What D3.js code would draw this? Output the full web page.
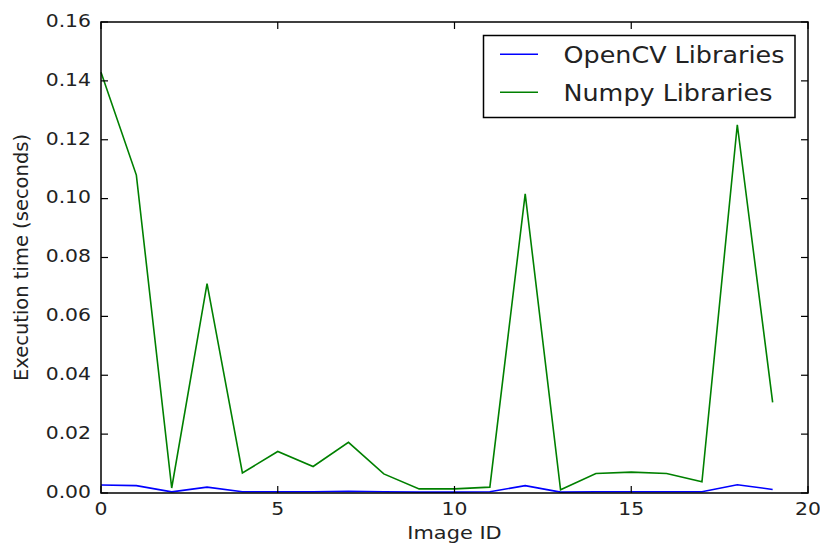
<!DOCTYPE html>
<html>
<head>
<meta charset="utf-8">
<script src="https://cdn.jsdelivr.net/npm/d3@7/dist/d3.min.js"></script>
<style>
  body { margin: 0; background: #fff; }
  svg { display: block; }
  text { font-family: "DejaVu Sans", sans-serif; fill: #222; }
</style>
</head>
<body>
<svg id="chart" width="820" height="552"></svg>
<script>
const imageIds = [0,1,2,3,4,5,6,7,8,9,10,11,12,13,14,15,16,17,18,19];
const opencvTimes = [0.0027,0.0025,0.0004,0.0020,0.0004,0.0004,0.0004,0.0006,0.0004,0.0003,0.0003,0.0004,0.0025,0.0003,0.0004,0.0004,0.0004,0.0004,0.0028,0.0012];
const numpyTimes = [0.1429,0.1080,0.0017,0.0711,0.0068,0.0141,0.0090,0.0172,0.0065,0.0014,0.0014,0.0020,0.1016,0.0011,0.0066,0.0071,0.0066,0.0038,0.1251,0.0308];
const xTicks = [0,5,10,15,20];
const yTicks = [0,0.02,0.04,0.06,0.08,0.10,0.12,0.14,0.16];
const seriesNames = ["OpenCV Libraries","Numpy Libraries"];
const seriesColors = ["#0000ff","#008000"];

const W = 820, H = 552;
const m = {left: 101, right: 12, top: 22, bottom: 59};
const SX = 1.1;  // horizontal text stretch for tick labels
const SXL = 1.13; // for labels/legend
const svg = d3.select("#chart");

const x = d3.scaleLinear().domain([0,20]).range([m.left, W - m.right]);
const y = d3.scaleLinear().domain([0,0.16]).range([H - m.bottom, m.top]);

// lines
const line = d3.line().x((d,i)=>x(imageIds[i])).y(d=>y(d));
const g = svg.append("g");
[opencvTimes, numpyTimes].forEach((s,k)=>{
  g.append("path").datum(s).attr("d", line)
    .attr("fill","none").attr("stroke", seriesColors[k])
    .attr("stroke-width",1.6).attr("stroke-linejoin","miter");
});

// ticks (inside, all four sides)
const tl = 7;
const axes = svg.append("g").attr("stroke","#000").attr("stroke-width",1.2);
xTicks.forEach(t=>{
  axes.append("line").attr("x1",x(t)).attr("x2",x(t)).attr("y1",y(0)).attr("y2",y(0)-tl);
  axes.append("line").attr("x1",x(t)).attr("x2",x(t)).attr("y1",y(0.16)).attr("y2",y(0.16)+tl);
});
yTicks.forEach(t=>{
  axes.append("line").attr("x1",x(0)).attr("x2",x(0)+tl).attr("y1",y(t)).attr("y2",y(t));
  axes.append("line").attr("x1",x(20)).attr("x2",x(20)-tl).attr("y1",y(t)).attr("y2",y(t));
});

// tick labels
const fs = 18.5;
xTicks.forEach(t=>{
  svg.append("text").attr("transform",`translate(${x(t)},${y(0)+22}) scale(${SX},1)`)
    .attr("text-anchor","middle").style("font-size",fs+"px").text(d3.format("d")(t));
});
yTicks.forEach(t=>{
  svg.append("text").attr("transform",`translate(${x(0)-10},${y(t)+4.8}) scale(${SX},1)`)
    .attr("text-anchor","end").style("font-size",fs+"px").text(d3.format(".2f")(t));
});

// frame
svg.append("rect").attr("x",m.left).attr("y",m.top)
  .attr("width",W-m.left-m.right).attr("height",H-m.top-m.bottom)
  .attr("fill","none").attr("stroke","#000").attr("stroke-width",1.5);

// axis labels
svg.append("text").attr("transform",`translate(${(m.left+W-m.right)/2},${H-13.5}) scale(${SXL},1)`)
  .attr("text-anchor","middle").style("font-size","18.5px").text("Image ID");
svg.append("text").attr("transform",`translate(28,${(m.top+H-m.bottom)/2}) rotate(-90)`)
  .attr("text-anchor","middle").style("font-size","19.5px").text("Execution time (seconds)");

// legend
const lg = svg.append("g");
lg.append("rect").attr("x",483.5).attr("y",35.5).attr("width",311.5).attr("height",82)
  .attr("fill","#fff").attr("stroke","#000").attr("stroke-width",1.5);
seriesNames.forEach((n,k)=>{
  const yy = 54.3 + k*38;
  lg.append("line").attr("x1",500).attr("x2",538).attr("y1",yy).attr("y2",yy)
    .attr("stroke",seriesColors[k]).attr("stroke-width",1.6);
  lg.append("text").attr("transform",`translate(563.5,${yy+8.8}) scale(${SXL},1)`)
    .style("font-size","22.5px").text(n);
});
</script>
</body>
</html>
